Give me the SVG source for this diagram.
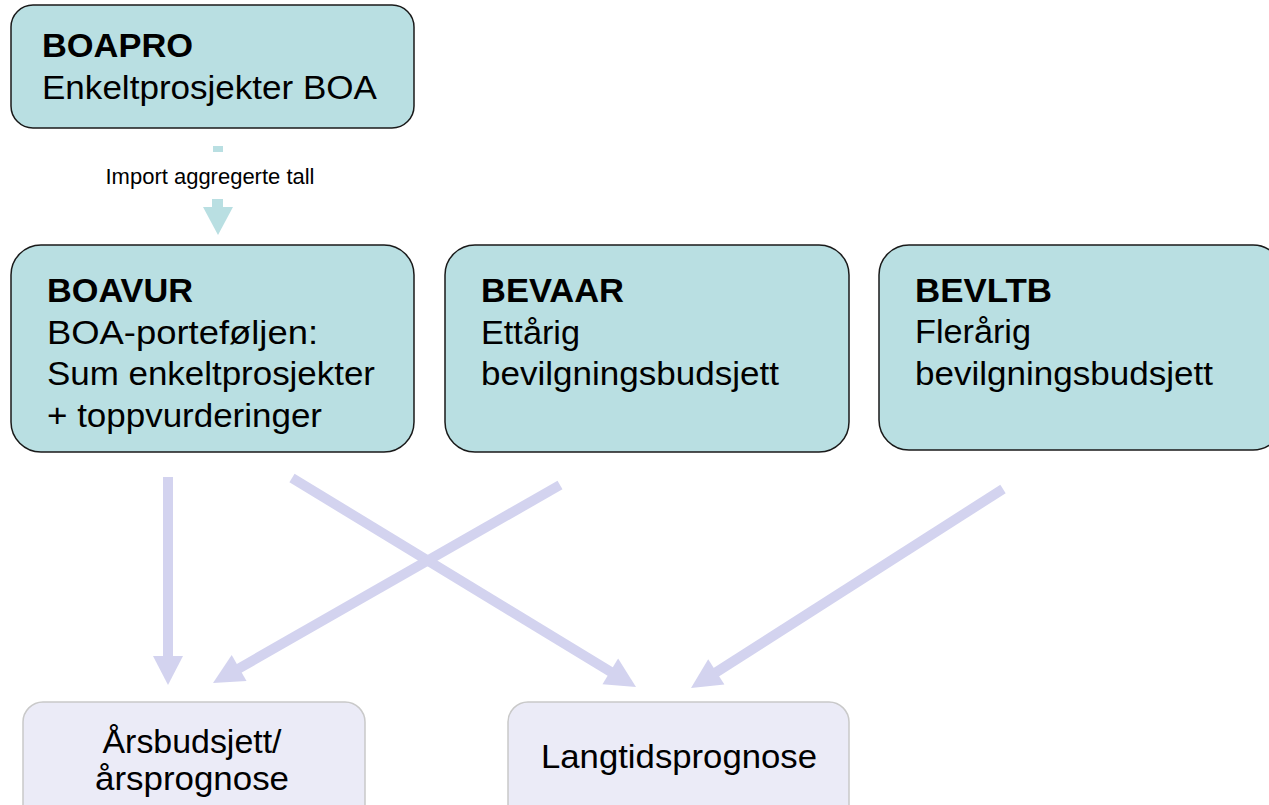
<svg xmlns="http://www.w3.org/2000/svg" width="1269" height="805" viewBox="0 0 1269 805">
<style>
.src{fill:#B9DFE2;stroke:#1a1a1a;stroke-width:1.5}
.dst{fill:#EBEBF7;stroke:#C9C9C9;stroke-width:1.5}
.t{font-family:"Liberation Sans",Arial,sans-serif;font-size:33px;fill:#000}
.b{font-weight:bold}
.c{text-anchor:middle}
.lbl{font-family:"Liberation Sans",Arial,sans-serif;font-size:22px;fill:#000;text-anchor:middle}
.sh{stroke:#D3D3EF;stroke-width:10;fill:none}
.hd{fill:#D3D3EF}
.imp{fill:#B9DFE2}
</style>
<rect width="1269" height="805" fill="#fff"/>
<g id="BOAPRO">
<rect class="src" x="11" y="5" width="403" height="123" rx="22"/>
<text class="t b" x="42" y="57" textLength="151" lengthAdjust="spacingAndGlyphs">BOAPRO</text>
<text class="t" x="42" y="99" textLength="335" lengthAdjust="spacingAndGlyphs">Enkeltprosjekter BOA</text>
</g>
<g id="BOAVUR">
<rect class="src" x="11" y="245" width="403" height="207" rx="30"/>
<text class="t b" x="47" y="302" textLength="146" lengthAdjust="spacingAndGlyphs">BOAVUR</text>
<text class="t" x="47" y="344" textLength="271" lengthAdjust="spacingAndGlyphs">BOA-porteføljen:</text>
<text class="t" x="47" y="385" textLength="328" lengthAdjust="spacingAndGlyphs">Sum enkeltprosjekter</text>
<text class="t" x="47" y="427" textLength="275" lengthAdjust="spacingAndGlyphs">+ toppvurderinger</text>
</g>
<g id="BEVAAR">
<rect class="src" x="445" y="245" width="404" height="207" rx="30"/>
<text class="t b" x="481" y="302" textLength="143" lengthAdjust="spacingAndGlyphs">BEVAAR</text>
<text class="t" x="481" y="344" textLength="99" lengthAdjust="spacingAndGlyphs">Ettårig</text>
<text class="t" x="481" y="385" textLength="298" lengthAdjust="spacingAndGlyphs">bevilgningsbudsjett</text>
</g>
<g id="BEVLTB">
<rect class="src" x="879" y="245" width="404" height="205" rx="30"/>
<text class="t b" x="915" y="302" textLength="137" lengthAdjust="spacingAndGlyphs">BEVLTB</text>
<text class="t" x="915" y="343" textLength="116" lengthAdjust="spacingAndGlyphs">Flerårig</text>
<text class="t" x="915" y="385" textLength="298" lengthAdjust="spacingAndGlyphs">bevilgningsbudsjett</text>
</g>
<g id="Arsbudsjett">
<rect class="dst" x="23" y="702" width="342" height="130" rx="20"/>
<text class="t c" x="192" y="753" textLength="179" lengthAdjust="spacingAndGlyphs">Årsbudsjett/</text>
<text class="t c" x="192" y="790" textLength="194" lengthAdjust="spacingAndGlyphs">årsprognose</text>
</g>
<g id="Langtidsprognose">
<rect class="dst" x="508" y="702" width="341" height="130" rx="20"/>
<text class="t c" x="679" y="768" textLength="276" lengthAdjust="spacingAndGlyphs">Langtidsprognose</text>
</g>
<g id="connectors">
<g id="import">
<rect class="imp" x="213" y="146" width="10" height="6"/>
<text class="lbl" x="210" y="184" textLength="209" lengthAdjust="spacingAndGlyphs">Import aggregerte tall</text>
<rect class="imp" x="212" y="199" width="11" height="9"/>
<polygon class="imp" points="203,207 233,207 218,235"/>
</g>
<line class="sh" x1="168" y1="477" x2="168" y2="657"/>
<polygon class="hd" points="153,656 183,656 168,685"/>
<line class="sh" x1="292" y1="478" x2="611" y2="672"/>
<polygon class="hd" points="602.5,684.2 618.1,658.6 636,687"/>
<line class="sh" x1="560" y1="485" x2="238" y2="669"/>
<polygon class="hd" points="231.7,655.1 246.5,681.1 213,683"/>
<line class="sh" x1="1003" y1="489" x2="715" y2="673"/>
<polygon class="hd" points="708.2,659.3 724.4,684.6 691,688"/>
</g>
</svg>
